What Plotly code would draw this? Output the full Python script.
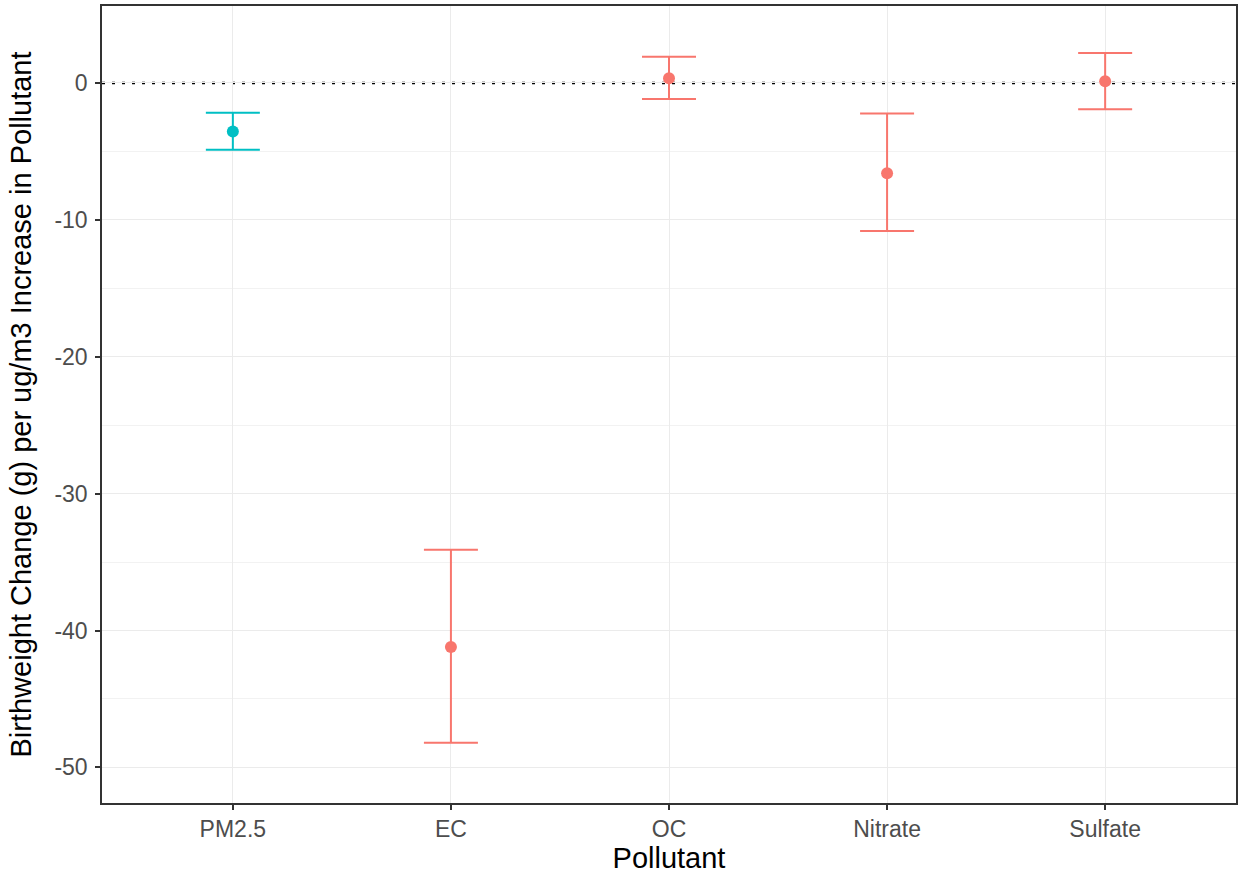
import plotly.graph_objects as go

pollutants = ["PM2.5", "EC", "OC", "Nitrate", "Sulfate"]
estimate = [-3.55, -41.2, 0.34, -6.6, 0.12]
lower = [-4.88, -48.2, -1.17, -10.82, -1.93]
upper = [-2.17, -34.1, 1.92, -2.24, 2.19]
groups = ["total", "component", "component", "component", "component"]
colors = {"total": "#00BFC4", "component": "#F8766D"}

y_ticks = [0, -10, -20, -30, -40, -50]

fig = go.Figure()
for g in ["total", "component"]:
    idx = [i for i, gg in enumerate(groups) if gg == g]
    fig.add_trace(go.Scatter(
        x=[pollutants[i] for i in idx],
        y=[estimate[i] for i in idx],
        mode="markers",
        marker=dict(color=colors[g], size=12),
        error_y=dict(
            type="data", symmetric=False,
            array=[upper[i] - estimate[i] for i in idx],
            arrayminus=[estimate[i] - lower[i] for i in idx],
            color=colors[g], thickness=2, width=27,
        ),
        showlegend=False,
    ))

fig.add_shape(type="line", xref="paper", yref="y", x0=0, x1=1, y0=0, y1=0,
              line=dict(color="black", width=2.5, dash="3px,7px"), layer="below")

fig.update_layout(
    width=1238, height=878,
    margin=dict(l=102, r=2, t=6, b=75),
    paper_bgcolor="white", plot_bgcolor="white",
    font=dict(family="Liberation Sans, Arial, sans-serif"),
)
fig.update_xaxes(
    categoryorder="array", categoryarray=pollutants,
    range=[-0.6, 4.6],
    showgrid=True, gridcolor="#EBEBEB", gridwidth=1.2,
    showline=True, linecolor="#333333", linewidth=1.5, mirror=True,
    ticks="outside", ticklen=5, tickcolor="#333333", tickwidth=1.5,
    tickfont=dict(size=23, color="#4D4D4D"),
    title=dict(text="Pollutant", font=dict(size=29, color="black"), standoff=5),
    zeroline=False, automargin=False,
)
fig.update_yaxes(
    range=[-52.6, 5.62],
    tickvals=y_ticks, ticktext=[str(v) for v in y_ticks],
    showgrid=True, gridcolor="#EBEBEB", gridwidth=1.2,
    minor=dict(tickvals=[-5, -15, -25, -35, -45], showgrid=True,
               gridcolor="#F2F2F2", gridwidth=0.7, ticks=""),
    showline=True, linecolor="#333333", linewidth=1.5, mirror=True,
    ticks="outside", ticklen=5, tickcolor="#333333", tickwidth=1.5,
    ticklabelstandoff=3,
    tickfont=dict(size=23, color="#4D4D4D"),
    title=dict(text="Birthweight Change (g) per ug/m3 Increase in Pollutant",
               font=dict(size=29, color="black"), standoff=14),
    zeroline=False, automargin=False,
)

fig.write_html("out.html")
